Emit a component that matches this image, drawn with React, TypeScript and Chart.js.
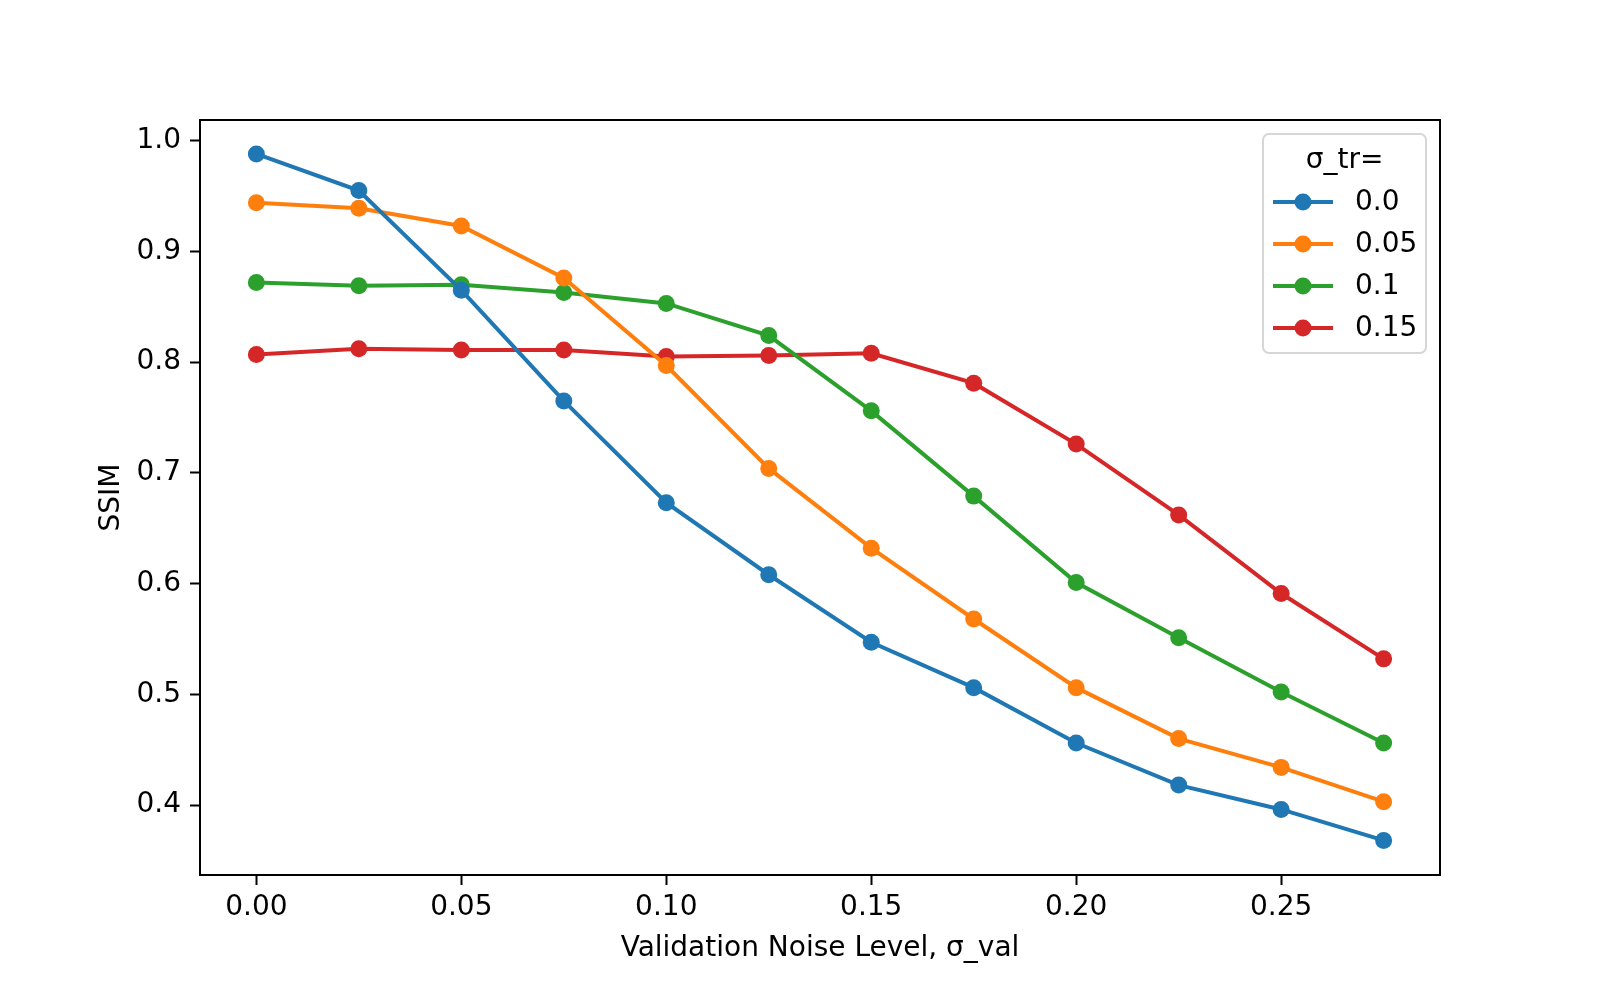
import { useEffect, useRef } from "react";
import { Chart, registerables, Plugin } from "chart.js";

Chart.register(...registerables);

// validation noise levels (x)
const noiseLevels = [0, 0.025, 0.05, 0.075, 0.1, 0.125, 0.15, 0.175, 0.2, 0.225, 0.25, 0.275];

// SSIM per training noise level
const ssimTr000 = [0.988, 0.955, 0.865, 0.765, 0.673, 0.608, 0.547, 0.506, 0.456, 0.418, 0.396, 0.368];
const ssimTr005 = [0.944, 0.939, 0.923, 0.876, 0.797, 0.704, 0.632, 0.568, 0.506, 0.460, 0.434, 0.403];
const ssimTr010 = [0.872, 0.869, 0.870, 0.863, 0.853, 0.824, 0.756, 0.679, 0.601, 0.551, 0.502, 0.456];
const ssimTr015 = [0.807, 0.812, 0.811, 0.811, 0.805, 0.806, 0.808, 0.781, 0.726, 0.662, 0.591, 0.532];

const legendLabels = ["0.0", "0.05", "0.1", "0.15"];
const legendTitle = "σ_tr=";
const colors = ["#1f77b4", "#ff7f0e", "#2ca02c", "#d62728"];

const xTicks = [0, 0.05, 0.1, 0.15, 0.2, 0.25];
const yTicks = [0.4, 0.5, 0.6, 0.7, 0.8, 0.9, 1.0];

const FONT = "DejaVu Sans";

// axes frame, drawn over the lines like matplotlib spines
const framePlugin: Plugin = {
  id: "frame",
  afterDatasetsDraw(chart) {
    const { ctx, chartArea: a } = chart;
    ctx.save();
    ctx.strokeStyle = "#000";
    ctx.lineWidth = 2;
    ctx.strokeRect(a.left, a.top, a.right - a.left, a.bottom - a.top);
    ctx.restore();
  },
};

// legend box in the upper right corner
const legendPlugin: Plugin = {
  id: "boxLegend",
  afterDraw(chart) {
    const { ctx, chartArea: a } = chart;
    const right = a.right - 14;
    const top = a.top + 14;
    const w = 163;
    const h = 219;
    const left = right - w;
    ctx.save();
    ctx.fillStyle = "rgba(255,255,255,0.8)";
    ctx.strokeStyle = "#d6d6d6";
    ctx.lineWidth = 2;
    ctx.beginPath();
    ctx.roundRect(left, top, w, h, 6);
    ctx.fill();
    ctx.stroke();

    ctx.fillStyle = "#000";
    ctx.font = `28px "${FONT}"`;
    ctx.textBaseline = "middle";
    ctx.textAlign = "center";
    ctx.fillText(legendTitle, left + w / 2, top + 27);

    ctx.textAlign = "left";
    chart.data.datasets.forEach((ds, i) => {
      const y = top + 68 + i * 42;
      const col = ds.borderColor as string;
      ctx.strokeStyle = col;
      ctx.lineWidth = 4;
      ctx.beginPath();
      ctx.moveTo(left + 10, y);
      ctx.lineTo(left + 70, y);
      ctx.stroke();
      ctx.fillStyle = col;
      ctx.beginPath();
      ctx.arc(left + 40, y, 8.5, 0, Math.PI * 2);
      ctx.fill();
      ctx.fillStyle = "#000";
      ctx.fillText(legendLabels[i], left + 92, y + 1);
    });
    ctx.restore();
  },
};

const App: React.FC = () => {
  const chartRef = useRef<HTMLCanvasElement | null>(null);

  useEffect(() => {
    document.body.style.margin = "0";
    if (!chartRef.current) return;
    const ctx = chartRef.current.getContext("2d");
    if (!ctx) return;

    const series = [ssimTr000, ssimTr005, ssimTr010, ssimTr015];

    const chart = new Chart(ctx, {
      type: "line",
      data: {
        datasets: series.map((vals, i) => ({
          label: legendLabels[i],
          data: vals.map((v, j) => ({ x: noiseLevels[j], y: v })),
          borderColor: colors[i],
          backgroundColor: colors[i],
          borderWidth: 4,
          pointRadius: 8.5,
          pointHoverRadius: 8.5,
          pointBorderWidth: 0,
          tension: 0,
          fill: false,
        })),
      },
      options: {
        animation: false,
        responsive: false,
        devicePixelRatio: 1,
        layout: { padding: { top: 120, right: 160, left: 0, bottom: 0 } },
        plugins: {
          legend: { display: false },
          tooltip: { enabled: false },
        },
        scales: {
          x: {
            type: "linear",
            min: -0.01375,
            max: 0.28875,
            afterBuildTicks: (scale) => {
              scale.ticks = xTicks.map((v) => ({ value: v }));
            },
            afterFit: (scale) => {
              scale.height = 125;
            },
            ticks: {
              color: "#000",
              font: { family: FONT, size: 28 },
              padding: 6,
              maxRotation: 0,
              callback: (v) => Number(v).toFixed(2),
            },
            grid: {
              drawOnChartArea: false,
              drawTicks: true,
              tickLength: 10,
              tickWidth: 2,
              tickColor: "#000",
            },
            border: { display: false },
            title: {
              display: true,
              text: "Validation Noise Level, σ_val",
              color: "#000",
              font: { family: FONT, size: 28 },
              padding: { top: 34, bottom: 34 },
            },
          },
          y: {
            type: "linear",
            min: 0.3368,
            max: 1.0187,
            afterBuildTicks: (scale) => {
              scale.ticks = yTicks.map((v) => ({ value: v }));
            },
            afterFit: (scale) => {
              scale.width = 200;
            },
            ticks: {
              color: "#000",
              font: { family: FONT, size: 28 },
              padding: 9,
              callback: (v) => Number(v).toFixed(1),
            },
            grid: {
              drawOnChartArea: false,
              drawTicks: true,
              tickLength: 10,
              tickWidth: 2,
              tickColor: "#000",
            },
            border: { display: false },
            title: {
              display: true,
              text: "SSIM",
              color: "#000",
              font: { family: FONT, size: 28 },
              padding: { top: 95, bottom: 95 },
            },
          },
        },
      },
      plugins: [framePlugin, legendPlugin],
    });

    return () => {
      chart.destroy();
    };
  }, []);

  return (
    <div style={{ width: "1600px", height: "1000px" }}>
      <canvas ref={chartRef} width={1600} height={1000}></canvas>
    </div>
  );
};

export default App;
